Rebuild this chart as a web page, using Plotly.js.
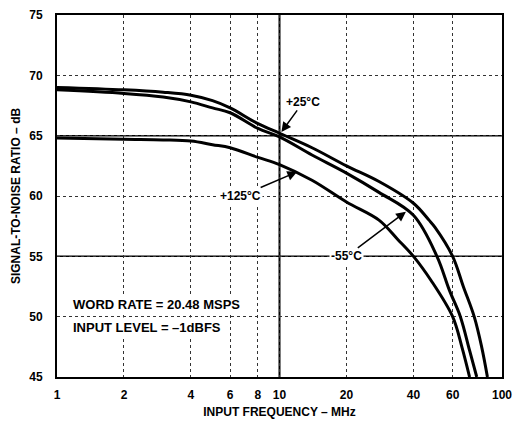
<!DOCTYPE html>
<html>
<head>
<meta charset="utf-8">
<script src="https://cdn.plot.ly/plotly-3.0.1.min.js"></script>
<style>html,body{margin:0;padding:0;background:#fff;}#chart{width:514px;height:423px;}</style>
</head>
<body>
<div id="chart"></div>
<script>
// Input frequency (MHz) and SNR (dB)
const freqP25 = [1, 2, 3, 4, 5, 6, 8, 10, 14, 20, 28, 40, 47, 50, 60, 67, 75, 81, 86];
const snrP25  = [69.0, 68.8, 68.6, 68.35, 67.9, 67.3, 66.0, 65.2, 64.0, 62.5, 61.2, 59.4, 58.0, 57.4, 55.0, 52.5, 50.0, 47.5, 45.0];

const freqM55 = [1, 2, 3, 4, 5, 6, 8, 10, 14, 20, 28, 40, 51, 58, 65, 71.5, 77];
const snrM55  = [68.8, 68.5, 68.2, 67.8, 67.3, 66.9, 65.6, 64.9, 63.4, 61.9, 60.3, 58.4, 55.0, 52.2, 50.0, 47.2, 45.0];

const freqP125 = [1, 2, 3, 4, 5, 6, 8, 10, 14, 20, 28, 34, 40, 48, 60, 66, 71.5];
const snrP125  = [64.8, 64.7, 64.65, 64.55, 64.25, 64.0, 63.2, 62.6, 61.3, 59.5, 58.0, 56.4, 55.0, 53.0, 50.0, 47.5, 45.0];

const xTickVals = [1, 2, 4, 6, 8, 10, 20, 40, 60, 100];
const xTickText = ['1', '2', '4', '6', '8', '10', '20', '40', '60', '100'];
const yTickVals = [45, 50, 55, 60, 65, 70, 75];

const FONT = 'Liberation Sans, Arial, sans-serif';
const lineStyle = {color: '#000', width: 3, shape: 'spline', smoothing: 1};

const traces = [
  {x: freqP25, y: snrP25, mode: 'lines', line: lineStyle, name: '+25°C', hoverinfo: 'skip'},
  {x: freqM55, y: snrM55, mode: 'lines', line: lineStyle, name: '-55°C', hoverinfo: 'skip'},
  {x: freqP125, y: snrP125, mode: 'lines', line: lineStyle, name: '+125°C', hoverinfo: 'skip'}
];

const L = Math.log10;
const annFont = {family: FONT, size: 12, color: '#000', weight: 'bold'};
const arrowBase = {showarrow: true, arrowhead: 2, arrowsize: 1.3, arrowwidth: 1.5, arrowcolor: '#000',
  xref: 'x', yref: 'y', axref: 'x', ayref: 'y', font: annFont, bgcolor: '#fff', borderpad: 1};

const layout = {
  width: 514, height: 423,
  margin: {l: 57, r: 12, t: 15, b: 46},
  paper_bgcolor: '#fff', plot_bgcolor: '#fff',
  showlegend: false,
  font: {family: FONT, color: '#000'},
  xaxis: {
    type: 'log', range: [0, 2],
    tickvals: xTickVals, ticktext: xTickText,
    tickfont: {family: FONT, size: 12, color: '#000', weight: 'bold'},
    ticks: '', ticklabelstandoff: 6,
    showgrid: true, gridcolor: '#333', gridwidth: 1, griddash: 'dot',
    showline: true, linecolor: '#000', linewidth: 2, mirror: true,
    zeroline: false,
    title: {text: 'INPUT FREQUENCY – MHz', font: {family: FONT, size: 12, color: '#000', weight: 'bold'}, standoff: 6}
  },
  yaxis: {
    range: [45, 75], tickvals: yTickVals,
    tickfont: {family: FONT, size: 12, color: '#000', weight: 'bold'},
    ticks: '', ticklabelstandoff: 10,
    showgrid: true, gridcolor: '#333', gridwidth: 1, griddash: 'dot',
    showline: true, linecolor: '#000', linewidth: 2, mirror: true,
    zeroline: false,
    title: {text: 'SIGNAL-TO-NOISE RATIO – dB', font: {family: FONT, size: 12, color: '#000', weight: 'bold'}, standoff: 6}
  },
  shapes: [
    {type: 'line', xref: 'paper', yref: 'paper', x0: 0.5, x1: 0.5, y0: 0, y1: 1, line: {color: '#000', width: 2}, layer: 'below'},
    {type: 'line', xref: 'paper', yref: 'y', x0: 0, x1: 1, y0: 65, y1: 65, line: {color: '#000', width: 1.5}, layer: 'below'},
    {type: 'line', xref: 'paper', yref: 'y', x0: 0, x1: 1, y0: 55, y1: 55, line: {color: '#000', width: 1.5}, layer: 'below'}
  ],
  annotations: [
    Object.assign({}, arrowBase, {text: '+25°C', x: L(10.2), y: 65.3, ax: L(12.8), ay: 67.8}),
    Object.assign({}, arrowBase, {text: '+125°C', x: L(12), y: 62.0, ax: L(6.7), ay: 60}),
    Object.assign({}, arrowBase, {text: '-55°C', x: L(37), y: 58.7, ax: L(20), ay: 55}),
    {text: 'WORD RATE = 20.48 MSPS', xref: 'paper', yref: 'paper', x: 0.03, y: 0.199, xanchor: 'left', yanchor: 'middle',
     showarrow: false, font: {family: FONT, size: 13, color: '#000', weight: 'bold'}, bgcolor: '#fff', borderpad: 2},
    {text: 'INPUT LEVEL = –1dBFS', xref: 'paper', yref: 'paper', x: 0.03, y: 0.138, xanchor: 'left', yanchor: 'middle',
     showarrow: false, font: {family: FONT, size: 13, color: '#000', weight: 'bold'}, bgcolor: '#fff', borderpad: 2}
  ]
};

Plotly.newPlot('chart', traces, layout, {displayModeBar: false, staticPlot: true});
</script>
</body>
</html>
